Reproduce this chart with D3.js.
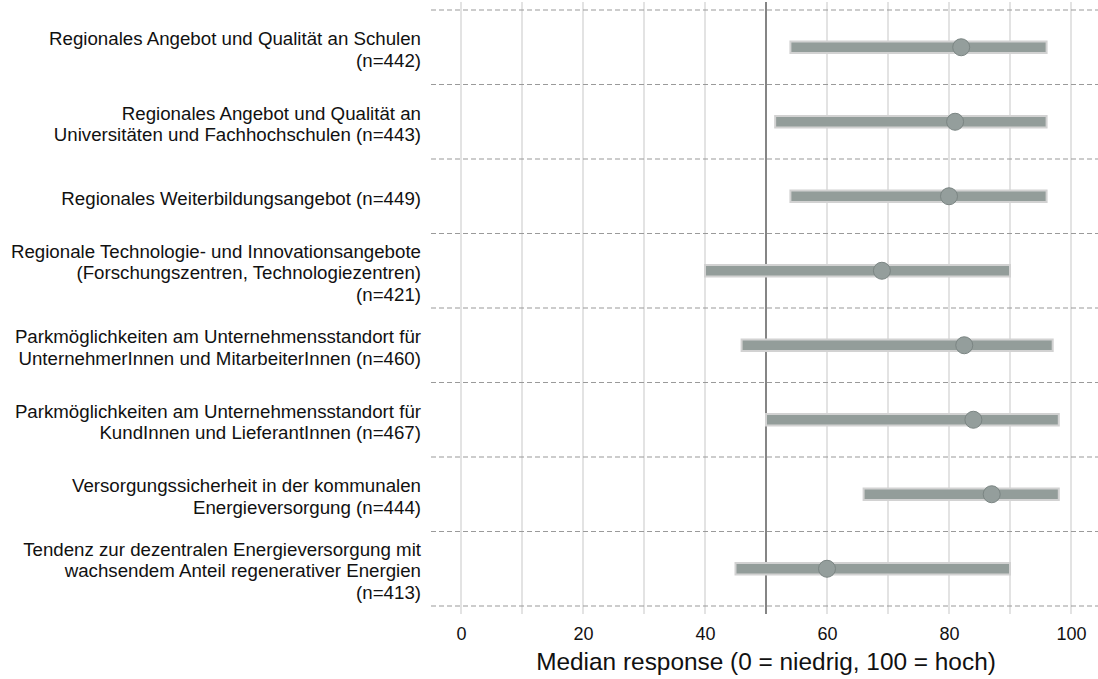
<!DOCTYPE html>
<html>
<head>
<meta charset="utf-8">
<script src="https://cdn.jsdelivr.net/npm/d3@7"></script>
<style>
  body { margin: 0; background: #fff; }
  svg { display: block; font-family: "Liberation Sans", Arial, sans-serif; }
</style>
</head>
<body>
<div id="viz"></div>
<script>
var categories = [
  "Regionales Angebot und Qualität an Schulen\n(n=442)",
  "Regionales Angebot und Qualität an\nUniversitäten und Fachhochschulen (n=443)",
  "Regionales Weiterbildungsangebot (n=449)",
  "Regionale Technologie- und Innovationsangebote\n(Forschungszentren, Technologiezentren)\n(n=421)",
  "Parkmöglichkeiten am Unternehmensstandort für\nUnternehmerInnen und MitarbeiterInnen (n=460)",
  "Parkmöglichkeiten am Unternehmensstandort für\nKundInnen und LieferantInnen (n=467)",
  "Versorgungssicherheit in der kommunalen\nEnergieversorgung (n=444)",
  "Tendenz zur dezentralen Energieversorgung mit\nwachsendem Anteil regenerativer Energien\n(n=413)"
];
var lows = [54, 51.5, 54, 40, 46, 50, 66, 45];
var highs = [96, 96, 96, 90, 97, 98, 98, 90];
var medians = [82, 81, 80, 69, 82.5, 84, 87, 60];
var tickValues = [0, 20, 40, 60, 80, 100];
var gridValues = [0, 10, 20, 30, 40, 50, 60, 70, 80, 90, 100];
var refValue = 50;
var axisTitle = "Median response (0 = niedrig, 100 = hoch)";

var width = 1098, height = 679;

var svg = d3.select("#viz").append("svg")
    .attr("width", width)
    .attr("height", height);

var x = d3.scaleLinear()
    .domain([0, 100])
    .range([461, 1071]);

var y = d3.scaleBand()
    .domain(categories)
    .range([10, 606])
    .padding(0);

// vertical grid
svg.append("g").selectAll("line")
    .data(gridValues.filter(function(d){ return d !== refValue; }))
    .enter().append("line")
    .attr("x1", function(d){ return x(d); })
    .attr("x2", function(d){ return x(d); })
    .attr("y1", 2)
    .attr("y2", 614)
    .style("stroke", "#e3e3e3")
    .style("stroke-width", 2);

// dashed row separators
var seps = categories.map(function(d){ return y(d); }).concat([y.range()[1]]);
svg.append("g").selectAll("line")
    .data(seps)
    .enter().append("line")
    .attr("x1", 431)
    .attr("x2", width)
    .attr("y1", function(d){ return d; })
    .attr("y2", function(d){ return d; })
    .style("stroke", "#9a9a9a")
    .style("stroke-width", 1.2)
    .style("stroke-dasharray", "5,3");

// reference line
svg.append("line")
    .attr("x1", x(refValue))
    .attr("x2", x(refValue))
    .attr("y1", 2)
    .attr("y2", 614)
    .style("stroke", "#858585")
    .style("stroke-width", 2);

var rows = svg.append("g").selectAll("g")
    .data(categories)
    .enter().append("g")
    .attr("transform", function(d){ return "translate(0," + (y(d) + y.bandwidth() / 2) + ")"; });

// range bars
rows.append("rect")
    .attr("x", function(d, i){ return x(lows[i]); })
    .attr("y", -5.75)
    .attr("width", function(d, i){ return x(highs[i]) - x(lows[i]); })
    .attr("height", 11.5)
    .style("fill", "#939d9a")
    .style("stroke", "#d2d2d2")
    .style("stroke-width", 2);

// medians
rows.append("circle")
    .attr("cx", function(d, i){ return x(medians[i]); })
    .attr("cy", 0)
    .attr("r", 8.5)
    .style("fill", "#949e9c")
    .style("stroke", "#7b8583")
    .style("stroke-width", 1);

// category labels
rows.append("text")
    .attr("text-anchor", "end")
    .style("font-size", "18.7px")
    .style("fill", "#111")
    .each(function(d){
      var lines = d.split("\n");
      var t = d3.select(this);
      lines.forEach(function(l, j){
        t.append("tspan")
          .attr("x", 421)
          .attr("y", (j - (lines.length - 1) / 2) * 21.5 + 8.5)
          .text(l);
      });
    });

// x axis
var xAxis = d3.axisBottom(x).tickValues(tickValues).tickSize(0).tickPadding(0);
var ax = svg.append("g")
    .attr("transform", "translate(0,626)")
    .call(xAxis);
ax.select(".domain").remove();
ax.selectAll("text")
    .attr("dy", null)
    .attr("y", 13.5)
    .style("font-family", "Liberation Sans, Arial, sans-serif")
    .style("font-size", "18px")
    .style("fill", "#111");

svg.append("text")
    .attr("x", x(refValue))
    .attr("y", 670)
    .attr("text-anchor", "middle")
    .style("font-size", "24.4px")
    .style("fill", "#111")
    .text(axisTitle);
</script>
</body>
</html>
